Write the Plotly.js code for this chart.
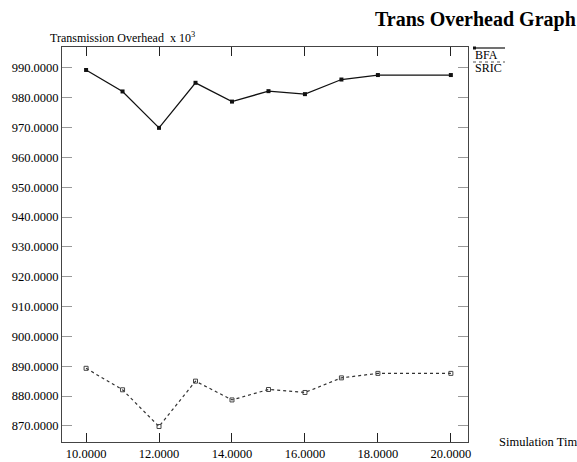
<!DOCTYPE html>
<html><head><meta charset="utf-8">
<script src="https://cdn.plot.ly/plotly-3.0.1.min.js"></script>
<style>html,body{margin:0;padding:0;background:#fff}</style>
</head><body>
<div id="chart" style="width:577px;height:462px"></div>
<script>
const simTime = [10, 11, 12, 13, 14, 15, 16, 17, 18, 20];
const bfa  = [989.3, 982.1, 969.9, 985.0, 978.7, 982.2, 981.2, 986.1, 987.6, 987.6];
const sric = [889.3, 882.1, 869.8, 885.0, 878.7, 882.2, 881.2, 886.1, 887.6, 887.6];
const xTicks = [10, 12, 14, 16, 18, 20];
const yTicks = [870, 880, 890, 900, 910, 920, 930, 940, 950, 960, 970, 980, 990];
const fmt = v => v.toFixed(4);

const L = 62, R = 468, T = 47, B = 442, W = 577, H = 462;
const px = x => (x - L) / (R - L);
const py = y => (B - y) / (B - T);
const font = {family: 'Liberation Serif, Times New Roman, serif', color: '#000'};

const traces = [
  {x: simTime, y: bfa, mode: 'lines+markers', name: 'BFA',
   line: {color: '#111', width: 1.3},
   marker: {symbol: 'square', size: 4, color: '#111'}},
  {x: simTime, y: sric, mode: 'lines+markers', name: 'SRIC',
   line: {color: '#333', width: 1.2, dash: 'dot'},
   marker: {symbol: 'square-open', size: 4, color: '#444', line: {width: 1}}}
];

const layout = {
  width: W, height: H,
  margin: {l: L, r: W - R, t: T, b: H - B},
  paper_bgcolor: '#fff', plot_bgcolor: '#fff',
  showlegend: false,
  font: Object.assign({size: 12}, font),
  title: {text: '<b>Trans Overhead Graph</b>', xref: 'container', yref: 'container',
          x: 375 / W, xanchor: 'left', y: 1 - 19 / H, yanchor: 'middle',
          font: Object.assign({size: 20}, font)},
  xaxis: {range: [9.34, 20.47], tickvals: xTicks, ticktext: xTicks.map(fmt),
          ticks: 'inside', ticklen: 9, tickcolor: '#222', tickwidth: 1,
          showline: true, linecolor: '#444', linewidth: 1, mirror: 'allticks',
          showgrid: false, zeroline: false,
          tickfont: Object.assign({size: 12.5}, font)},
  yaxis: {range: [864.6, 997.0], tickvals: yTicks, ticktext: yTicks.map(fmt),
          ticks: 'inside', ticklen: 10, tickcolor: '#999', tickwidth: 1,
          showline: true, linecolor: '#444', linewidth: 1, mirror: 'allticks',
          showgrid: false, zeroline: false,
          tickfont: Object.assign({size: 12.5}, font)},
  annotations: [
    {text: 'Transmission Overhead  x 10<sup>3</sup>', xref: 'paper', yref: 'paper',
     x: px(48), y: py(37), xanchor: 'left', yanchor: 'middle', showarrow: false,
     font: Object.assign({size: 12}, font)},
    {text: 'Simulation Time', xref: 'paper', yref: 'paper',
     x: px(497), y: py(442), xanchor: 'left', yanchor: 'middle', showarrow: false,
     font: Object.assign({size: 12.5}, font)},
    {text: 'BFA', xref: 'paper', yref: 'paper',
     x: px(473), y: py(55), xanchor: 'left', yanchor: 'middle', showarrow: false,
     font: Object.assign({size: 12}, font)},
    {text: 'SRIC', xref: 'paper', yref: 'paper',
     x: px(473), y: py(68), xanchor: 'left', yanchor: 'middle', showarrow: false,
     font: Object.assign({size: 12}, font)}
  ],
  shapes: [
    {type: 'line', xref: 'paper', yref: 'paper', x0: px(473), x1: px(505), y0: py(48), y1: py(48),
     line: {color: '#111', width: 1.2}},
    {type: 'rect', xref: 'paper', yref: 'paper', x0: px(473), x1: px(476), y0: py(46.5), y1: py(49.5),
     fillcolor: '#111', line: {width: 0}},
    {type: 'line', xref: 'paper', yref: 'paper', x0: px(473), x1: px(505), y0: py(62), y1: py(62),
     line: {color: '#555', width: 1.2, dash: 'dot'}}
  ]
};

Plotly.newPlot('chart', traces, layout, {displayModeBar: false, staticPlot: true});
</script>
</body></html>
